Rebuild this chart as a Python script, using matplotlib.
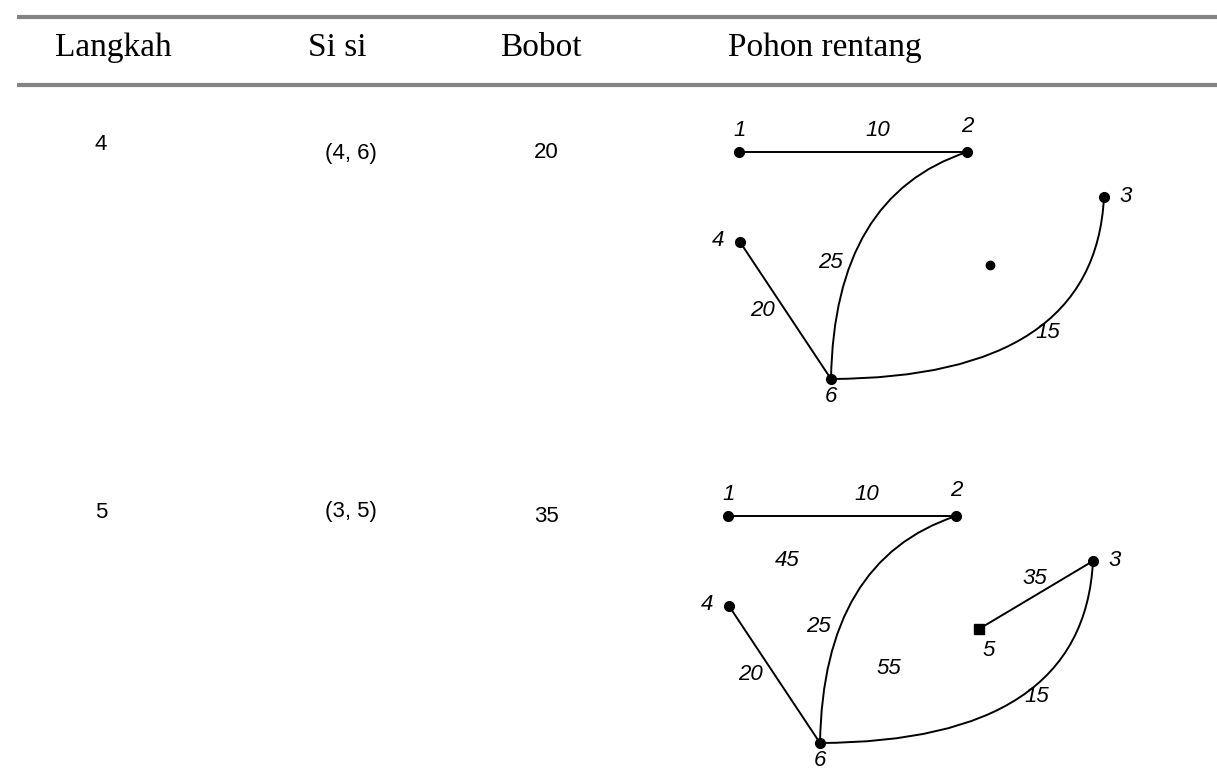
import matplotlib
matplotlib.use("Agg")
import matplotlib.pyplot as plt
from matplotlib.path import Path
from matplotlib.patches import PathPatch

# ---- table data ----
headers = ["Langkah", "Si si", "Bobot", "Pohon rentang"]
steps = ["4", "5"]
edges_added = ["(4, 6)", "(3, 5)"]
weights = ["20", "35"]

# ---- spanning tree per step: (u, v, weight) ----
tree_step4 = [(1, 2, 10), (2, 6, 25), (4, 6, 20), (6, 3, 15)]
tree_step5 = [(1, 2, 10), (2, 6, 25), (4, 6, 20), (6, 3, 15), (3, 5, 35)]
extra_weights_step5 = [45, 55]
trees = [tree_step4, tree_step5]
extras = [[], extra_weights_step5]

# ---- drawing layout (pixel coordinates of the first drawing) ----
node_pos = {1: (739, 152), 2: (967, 152), 3: (1104, 197),
            4: (740, 242), 5: (990, 265), 6: (831, 379)}
node_label_pos = {1: (740, 131), 2: (967, 126), 3: (1126, 197),
                  4: (718, 241), 5: (1000, 286), 6: (831, 396)}
edge_label_pos = {10: (878, 130), 25: (830, 262), 20: (762, 311),
                  15: (1048, 332), 35: (1046, 215), 45: (798, 196),
                  55: (900, 305)}
curve_ctrl = {(2, 6): (834, 196), (6, 3): (1095, 378)}
offsets = [(0, 0), (-11, 364)]

W, H = 1217, 771
fig = plt.figure(figsize=(W / 100, H / 100), dpi=100)
ax = fig.add_axes([0, 0, 1, 1])
ax.set_xlim(0, W)
ax.set_ylim(H, 0)
ax.axis("off")

# header rules
for yy in (17, 85):
    ax.plot([17, W], [yy, yy], color="#848484", lw=3.0, solid_capstyle="butt")

serif = ["Liberation Serif", "DejaVu Serif"]
sans = ["Liberation Sans", "DejaVu Sans"]
hx = [55, 308, 500, 728]
for x, t in zip(hx, headers):
    ax.text(x, 56, t, fontsize=24, family=serif, ha="left", va="baseline",
            color="black")

# table rows
row_y = [(145, 153, 153), (513, 512, 517)]
for i in range(len(steps)):
    ya, yb, yc = row_y[i]
    ax.text(101, ya, steps[i], fontsize=16, family=sans, ha="center", va="center")
    ax.text(351, yb, edges_added[i], fontsize=16, family=sans, ha="center", va="center")
    ax.text(546, yc, weights[i], fontsize=16, family=sans, ha="center", va="center")

lab_fs = 16
# spanning tree drawings
for k, tree in enumerate(trees):
    dx, dy = offsets[k]
    P = {n: (x + dx, y + dy) for n, (x, y) in node_pos.items()}
    for (u, v, w) in tree:
        if (u, v) in curve_ctrl:
            cx, cy = curve_ctrl[(u, v)]
            path = Path([P[u], (cx + dx, cy + dy), P[v]],
                        [Path.MOVETO, Path.CURVE3, Path.CURVE3])
            ax.add_patch(PathPatch(path, fc="none", ec="black", lw=1.4))
        else:
            ax.plot([P[u][0], P[v][0]], [P[u][1], P[v][1]], color="black", lw=1.4)
        lx, ly = edge_label_pos[w]
        ax.text(lx + dx, ly + dy, str(w), fontsize=lab_fs, family=sans, style="italic",
                ha="center", va="center")
    for w in extras[k]:
        lx, ly = edge_label_pos[w]
        ax.text(lx + dx, ly + dy, str(w), fontsize=lab_fs, family=sans, style="italic",
                ha="center", va="center")
    in_tree = {n for e in tree for n in e[:2]}
    for n, (x, y) in P.items():
        if n == 5:
            if n in in_tree:
                ax.plot(x, y, marker="s", ms=6.5, color="black", zorder=5)
                lx, ly = node_label_pos[n]
                ax.text(lx + dx, ly + dy, str(n), fontsize=lab_fs, family=sans,
                        style="italic", ha="center", va="center")
            else:
                ax.plot(x, y, marker="o", ms=6, color="black", zorder=5)
            continue
        ax.plot(x, y, marker="o", ms=7, color="black", zorder=5)
        lx, ly = node_label_pos[n]
        ax.text(lx + dx, ly + dy, str(n), fontsize=lab_fs, family=sans,
                style="italic", ha="center", va="center")

fig.savefig("out.png", dpi=100)
